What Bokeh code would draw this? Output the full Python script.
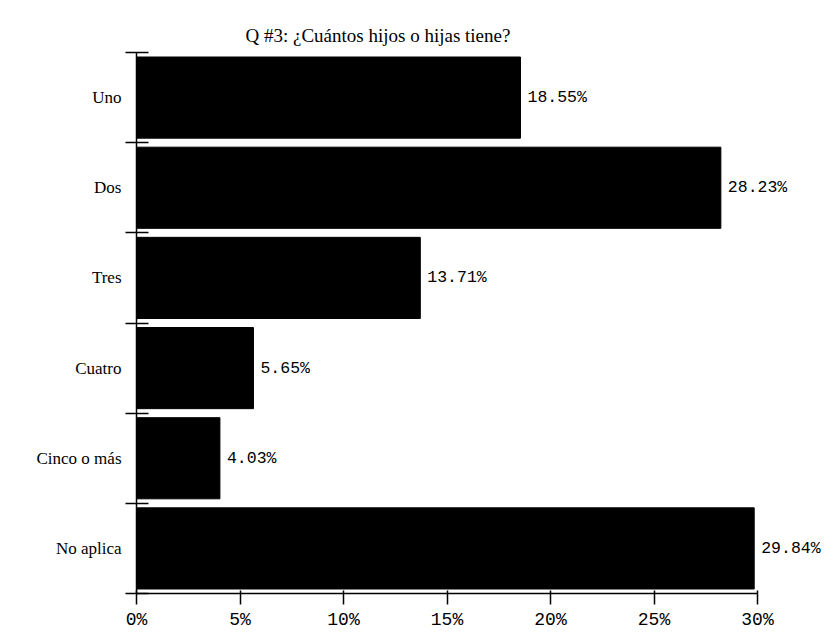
from bokeh.plotting import figure
from bokeh.models import Range1d, FixedTicker, ColumnDataSource
from bokeh.core.properties import value
from bokeh.embed import file_html
from bokeh.resources import INLINE

title_text = "Q #3: ¿Cuántos hijos o hijas tiene?"
categories = ["Uno", "Dos", "Tres", "Cuatro", "Cinco o más", "No aplica"]
percentages = [18.55, 28.23, 13.71, 5.65, 4.03, 29.84]
x_ticks = [0, 5, 10, 15, 20, 25, 30]
x_tick_labels = ["0%", "5%", "10%", "15%", "20%", "25%", "30%"]

n = len(categories)
ypos = [n - i for i in range(n)]  # top category highest
labels = ["%.2f%%" % v for v in percentages]
src = ColumnDataSource(dict(y=ypos, x=percentages, lab=labels, cat=categories))

W, H = 821, 632
left, right, top, bottom = 136, 0, 52, 34
x_end = 30 * (W - right - left) / (757 - left)

p = figure(width=W, height=H, output_backend="svg", toolbar_location=None,
           x_range=Range1d(0, x_end), y_range=Range1d(0.5, n + 0.5),
           min_border_left=left, min_border_right=right, min_border_top=top,
           min_border_bottom=bottom)
p.outline_line_color = None
p.xgrid.visible = False
p.ygrid.visible = False
p.background_fill_color = "white"
p.border_fill_color = "white"

p.title.text = title_text
p.title.align = "left"
p.title.vertical_align = "top"
p.title.padding = 0
p.title.offset = 109
p.title.text_font = "Liberation Serif"
p.title.text_font_size = "19px"
p.title.text_font_style = "normal"
p.title.text_color = "black"
p.title.standoff = 10

p.hbar(y="y", right="x", left=0, height=0.9, source=src,
       fill_color="black", line_color="black")
p.text(x="x", y="y", text="lab", source=src, x_offset=7,
       text_baseline="middle", text_align="left",
       text_font=value("Liberation Mono"), text_font_size="16.5px",
       text_color="black")

xa = p.xaxis[0]
xa.ticker = FixedTicker(ticks=x_ticks, minor_ticks=[])
xa.major_label_overrides = {t: l for t, l in zip(x_ticks, x_tick_labels)}
xa.bounds = (0, 30)
xa.axis_line_width = 1.5
xa.axis_line_color = "black"
xa.major_tick_in = 3
xa.major_tick_out = 11
xa.major_tick_line_width = 1.5
xa.major_label_text_font = "Liberation Mono"
xa.major_label_text_font_size = "18px"
xa.major_label_text_color = "black"
xa.major_label_standoff = 5

ya = p.yaxis[0]
ya.ticker = FixedTicker(ticks=ypos, minor_ticks=[k + 0.5 for k in range(n + 1)])
ya.major_label_overrides = {y: c for y, c in zip(ypos, categories)}
ya.bounds = (0.5, n + 0.5)
ya.axis_line_width = 1.5
ya.axis_line_color = "black"
ya.major_tick_in = 0
ya.major_tick_out = 0
ya.minor_tick_in = 12
ya.minor_tick_out = 11
ya.minor_tick_line_width = 1.5
ya.minor_tick_line_color = "black"
ya.major_label_text_font = "Liberation Serif"
ya.major_label_text_font_size = "17px"
ya.major_label_text_color = "black"
ya.major_label_standoff = 4

open("out.html", "w").write(file_html(p, INLINE))
